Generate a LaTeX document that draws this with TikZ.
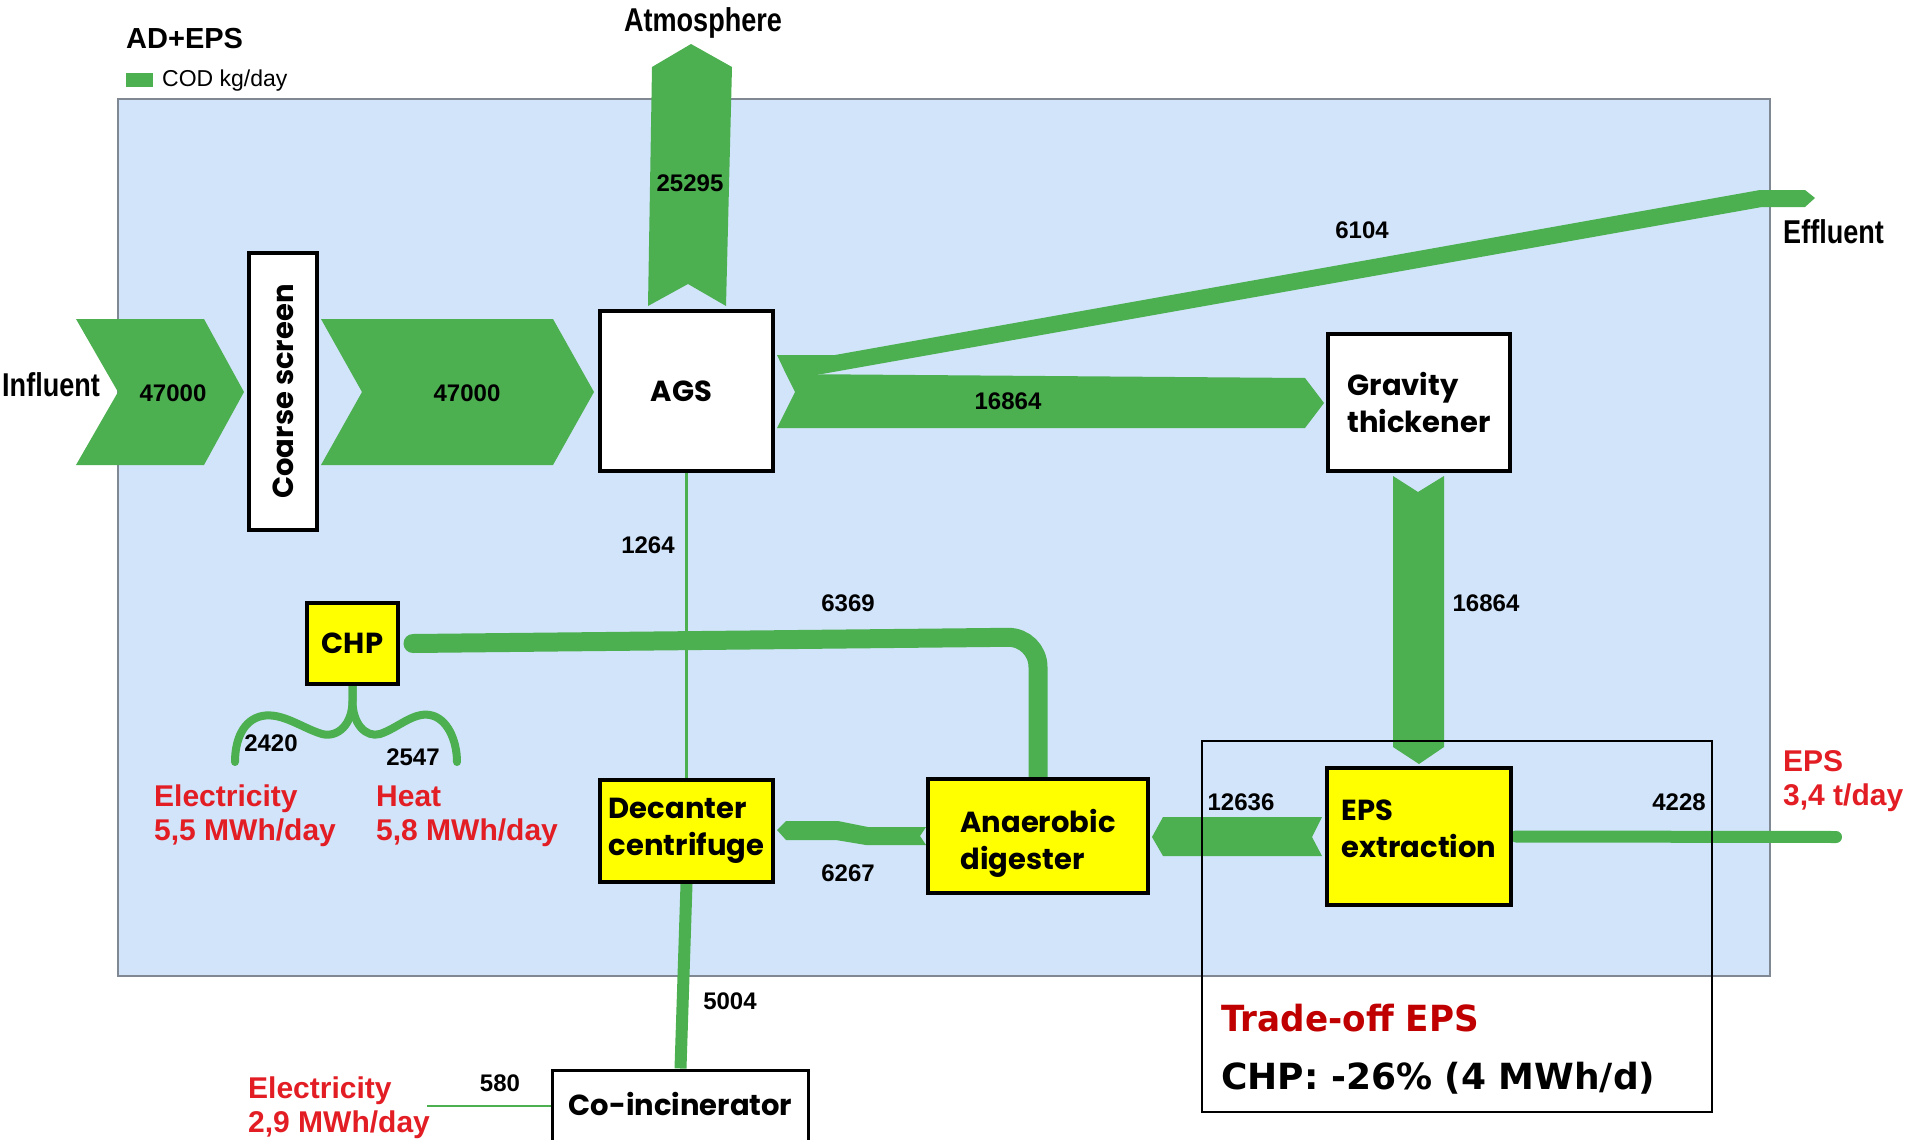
\documentclass[tikz,border=0pt]{standalone}
\usepackage{fontspec}
\setmainfont{Liberation Sans}
\newfontfamily\narrowfont[FakeStretch=0.82]{Liberation Sans}
\newfontfamily\gothicfont{Poppins}
\newfontfamily\notefont[FakeStretch=0.95]{DejaVu Sans}
\newfontfamily\notewidefont{DejaVu Sans}
\definecolor{flow}{RGB}{76,175,80}
\definecolor{panel}{RGB}{210,228,250}
\definecolor{panelrim}{RGB}{128,136,148}
\definecolor{outred}{RGB}{226,30,36}
\definecolor{darkred}{RGB}{192,0,0}
\definecolor{unityellow}{RGB}{255,255,0}
\pgfdeclarelayer{back}
\pgfsetlayers{back,main}
\begin{document}
\begin{tikzpicture}[x=1pt,y=-1pt,
  flowband/.style={fill=flow,draw=none},
  flowpipe/.style={draw=flow,line width=#1},
  unittext/.style={inner sep=0pt,align=left,
    font=\gothicfont\bfseries\fontsize{29}{37}\selectfont},
  unit/.style={unittext,draw=black,line width=4pt},
  whiteunit/.style={unit,fill=white},
  yellowunit/.style={unit,fill=unityellow},
  qty/.style={inner sep=0pt,font=\bfseries\fontsize{24}{26}\selectfont},
  tag/.style={inner sep=0pt,font=\narrowfont\bfseries\fontsize{33}{36}\selectfont},
  energy/.style={inner sep=0pt,anchor=west,align=left,text=outred,
    font=\bfseries\fontsize{30}{34}\selectfont},
]
\useasboundingbox (0,0) rectangle (1915,1140);
\clip (0,0) rectangle (1915,1140);

% process units
\node[whiteunit,rotate=90,minimum width=277,minimum height=68] (screen) at (283,391.5) {Coarse screen};
\node[whiteunit,minimum width=173,minimum height=160] (ags) at (686.5,391) {\hspace*{-10pt}AGS};
\node[whiteunit,minimum width=182,minimum height=137] (thick) at (1419,402.5) {Gravity\\thickener};
\node[yellowunit,minimum width=184,minimum height=137] (eps) at (1419,836.5) {};
\node[unittext] (epstext) at ([yshift=8pt]eps.center) {EPS\\extraction};
\node[yellowunit,minimum width=220,minimum height=114] (ad) at (1038,836) {};
\node[unittext] (adtext) at ([yshift=-7pt]ad.center) {Anaerobic\\digester};
\node[yellowunit,minimum width=173,minimum height=102] (decanter) at (686.5,831) {Decanter\\centrifuge};
\node[yellowunit,minimum width=91,minimum height=81] (chp) at (352.5,643.5) {CHP};
\node[whiteunit,line width=3pt,minimum width=256,minimum height=88] (coinc) at (680.5,1114) {\raisebox{20pt}{Co-incinerator}};

\begin{pgfonlayer}{back}
% plant boundary
\draw[fill=panel,draw=panelrim,line width=2pt] (118,99) rectangle (1770,976);

% main COD flows
\fill[flowband] (76,319) -- (204,319) -- (244,392) -- (204,465) -- (76,465) -- (118,392) -- cycle;
\fill[flowband] (321,319) -- (553,319) -- (594,392) -- (553,465) -- (321,465) -- (362,392) -- cycle;
\fill[flowband] (648,306) -- (688,284) -- (726,306) -- (732,67) -- (691,44) -- (652,67) -- cycle;
\fill[flowband] (777,355) -- (835,355) -- (1760,190) -- (1805,190) -- (1815,198)
   -- (1805,207) -- (1762,207) -- (822,374) -- (786,374) -- cycle;
\fill[flowband] (786,374) -- (1305,378) -- (1324,403) -- (1305,428) -- (777,428) -- (795,392) -- cycle;
\fill[flowband] (1393,476) -- (1418,492) -- (1444,476) -- (1444,747) -- (1419,764) -- (1393,747) -- cycle;
\fill[flowband] (1152,837) -- (1163,817) -- (1322,817) -- (1312,837) -- (1322,856) -- (1163,856) -- cycle;
\fill[flowband] (777,830) -- (786,821) -- (838,821) -- (868,827) -- (926,827) -- (920,836)
   -- (926,845) -- (866,845) -- (836,840) -- (786,840) -- cycle;

% connectors between units
\coordinate (epsend) at (1836,837);
\coordinate (elecend) at (427,1106);
\coordinate (bend) at (1038,637);
\draw[flowpipe=2.5] (ags.south) -- (decanter.north);
\draw[flowpipe=12] (decanter.south) -- (coinc.north);
\draw[flowpipe=2] (elecend) -- (elecend -| coinc.west);
\draw[flowpipe=12,line cap=round] ([xshift=3pt]eps.east) -- (epsend);
\draw[flowpipe=19,line cap=round,rounded corners=30] ([xshift=13pt]chp.east) -- (bend) -- ([yshift=-4pt]ad.north);
\draw[flowpipe=8,line cap=round] ([yshift=3pt]chp.south) -- ++(0,18)
   .. controls +(0,23) and +(16,4) .. (322,734)
   .. controls +(-20,-6) and +(20,-4) .. (262,716)
   .. controls +(-19,4) and +(0,-22) .. (235,762);
\draw[flowpipe=8,line cap=round] ([yshift=3pt]chp.south) -- ++(0,18)
   .. controls +(0,23) and +(-14,4) .. (380,734)
   .. controls +(18,-6) and +(-17,-3) .. (430,715)
   .. controls +(17,3) and +(0,-22) .. (457,762);
\end{pgfonlayer}

% title and legend
\node[inner sep=0pt,anchor=west,font=\bfseries\fontsize{29}{32}\selectfont] (title) at (126,39) {AD+EPS};
\fill[flow] (126,73) rectangle (153,87);
\node[inner sep=0pt,anchor=west,font=\fontsize{23}{26}\selectfont] (legend) at (162,81) {COD kg/day};

% stream labels
\node[tag] (atm) at (703,23) {Atmosphere};
\node[tag,anchor=west] (infl) at (2,385) {Influent};
\node[tag,anchor=west] (effl) at (1783,232) {Effluent};

\node[qty] (q1) at (173,393) {47000};
\node[qty] (q2) at (467,393) {47000};
\node[qty] (q3) at (690,183) {25295};
\node[qty] (q4) at (1362,230) {6104};
\node[qty] (q5) at (1008,401) {16864};
\node[qty] (q6) at (1486,603) {16864};
\node[qty] (q7) at (648,545) {1264};
\node[qty] (q8) at (848,603) {6369};
\node[qty] (q9) at (1241,802) {12636};
\node[qty] (q10) at (1679,802) {4228};
\node[qty] (q11) at (848,873) {6267};
\node[qty] (q12) at (271,743) {2420};
\node[qty] (q13) at (413,757) {2547};
\node[qty] (q14) at (730,1001) {5004};
\node[qty] (q15) at (500,1083) {580};

% energy and product outputs
\node[energy] (e1) at (154,816) {Electricity\\5,5 MWh/day};
\node[energy] (e2) at (376,816) {Heat\\5,8 MWh/day};
\node[energy] (e3) at (248,1107.5) {Electricity\\2,9 MWh/day};
\node[energy] (e4) at (1783,781) {EPS\\3,4 t/day};

% trade-off note
\node[draw=black,line width=1.5pt,inner sep=0pt,minimum width=510,minimum height=371] (note) at (1457,926.5) {};
\node[inner sep=0pt,anchor=west,text=darkred,font=\notefont\bfseries\fontsize{36}{40}\selectfont] (n1) at (1221,1018) {Trade-off EPS};
\node[inner sep=0pt,anchor=west,font=\notewidefont\bfseries\fontsize{36}{40}\selectfont] (n2) at (1221,1078) {CHP: -26\% (4 MWh/d)};
\end{tikzpicture}
\end{document}
